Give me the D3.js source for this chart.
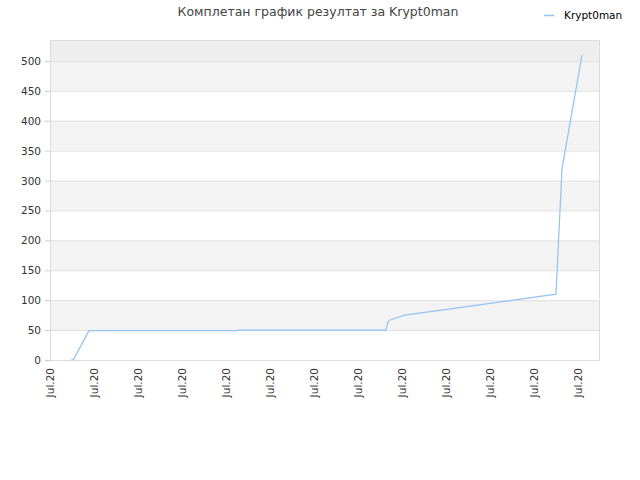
<!DOCTYPE html>
<html><head><meta charset="utf-8">
<script src="https://cdn.jsdelivr.net/npm/d3@7"></script>
<style>body{margin:0;background:#fff;font-family:"DejaVu Sans",sans-serif}</style>
</head><body><svg id="c" width="640" height="480"></svg>
<script>
const title = "Комплетан график резултат за Krypt0man";
const seriesName = "Krypt0man";
const tickLabels = ["Jul.20","Jul.20","Jul.20","Jul.20","Jul.20","Jul.20","Jul.20","Jul.20","Jul.20","Jul.20","Jul.20","Jul.20","Jul.20"];
const xs =   [21.0, 23.5, 39, 187, 188, 336, 338, 340, 355, 506, 512, 532];
const vals = [0,    1,    49, 49,  50,  50,  64,  67,  75,  110, 320, 510];
const yTicks = [0,50,100,150,200,250,300,350,400,450,500];

const svg = d3.select("#c");
const m = {l:50, r:600, t:40, b:360};
const x = d3.scaleLinear().domain([0,550]).range([m.l, m.r]);
const y = d3.scaleLinear().domain([0,535]).range([m.b, m.t]);

const bandEdges = yTicks.concat([535]);
for (let i=0;i<bandEdges.length-1;i++){
  const y0=bandEdges[i], y1=bandEdges[i+1];
  let fill = i%2===1 ? "#f3f3f3" : "#ffffff";
  if (y0===500) fill="#eeeeee";
  svg.append("rect").attr("x",m.l).attr("width",m.r-m.l).attr("y",y(y1)).attr("height",y(y0)-y(y1)).attr("fill",fill);
}
svg.append("g").selectAll("line").data(yTicks).join("line")
  .attr("x1",m.l).attr("x2",m.r).attr("y1",d=>y(d)+0.5).attr("y2",d=>y(d)+0.5).attr("stroke","#e0e0e0");
svg.append("rect").attr("x",m.l+0.5).attr("y",m.t+0.5).attr("width",m.r-m.l-1).attr("height",m.b-m.t).attr("fill","none").attr("stroke","#dcdcdc");

svg.append("g").selectAll("text").data(yTicks).join("text")
  .attr("x",m.l-9).attr("y",d=>y(d)+4).attr("text-anchor","end").attr("font-size",10.5).attr("fill","#333").text(d=>d);
svg.append("g").selectAll("line").data(yTicks).join("line")
  .attr("x1",m.l-5).attr("x2",m.l).attr("y1",d=>y(d)+0.5).attr("y2",d=>y(d)+0.5).attr("stroke","#ccc");

const tickPos = d3.range(tickLabels.length).map(i=>i*44);
svg.append("g").selectAll("text").data(tickLabels).join("text")
  .attr("transform",(d,i)=>`translate(${x(tickPos[i])+4},${m.b+8}) rotate(-90)`)
  .attr("text-anchor","end").attr("font-size",10.5).attr("fill","#333").text(d=>d);

const pts = xs.map((d,i)=>[d,vals[i]]);
svg.append("path").datum(pts).attr("fill","none").attr("stroke","#90c3f3").attr("stroke-width",1.2)
  .attr("d",d3.line().x(d=>x(d[0])).y(d=>y(d[1])));

svg.append("text").attr("x",318).attr("y",16).attr("text-anchor","middle").attr("font-size",12.5).attr("fill","#444").text(title);
svg.append("line").attr("x1",544).attr("x2",554).attr("y1",15.5).attr("y2",15.5).attr("stroke","#90c3f3").attr("stroke-width",1.5);
svg.append("text").attr("x",564).attr("y",19).attr("font-size",10.5).attr("fill","#000").text(seriesName);
</script></body></html>
